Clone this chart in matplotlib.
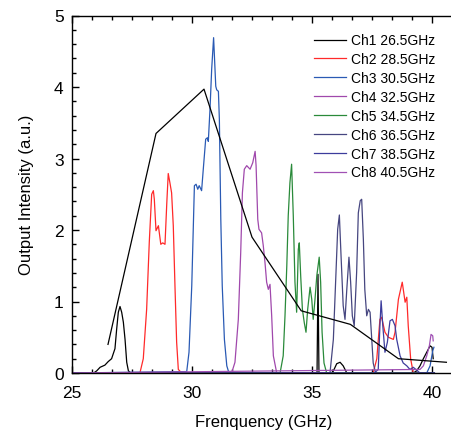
import matplotlib
matplotlib.use('Agg')
import matplotlib.pyplot as plt
import matplotlib as mpl
from matplotlib.ticker import MultipleLocator, AutoMinorLocator

mpl.rcParams['font.family'] = ['Liberation Sans', 'DejaVu Sans']
mpl.rcParams['font.size'] = 12

# ---- data ----
ch1_x = [25.0, 25.9, 26.03, 26.17, 26.37, 26.51, 26.65, 26.79, 26.86, 26.93, 27.0, 27.07, 27.14,
         27.21, 27.28, 27.35, 27.45, 35.21, 35.25, 35.29, 35.85, 36.03, 36.17, 36.3, 36.45,
         39.22, 39.36, 39.5, 39.64, 39.78, 39.92, 40.0, 40.05]
ch1_y = [0, 0, 0.03, 0.08, 0.11, 0.16, 0.2, 0.34, 0.61, 0.85, 0.93, 0.85, 0.71,
         0.47, 0.15, 0.03, 0, 0, 1.38, 0, 0, 0.13, 0.15, 0.1, 0,
         0, 0.03, 0.1, 0.2, 0.29, 0.38, 0.36, 0.2]

ch2_x = [25.0, 27.83, 27.97, 28.11, 28.22, 28.32, 28.39, 28.43, 28.5, 28.6, 28.7, 28.78, 28.875,
         28.95, 29.01, 29.08, 29.15, 29.22, 29.29, 29.36, 29.43, 29.57, 37.55, 37.7, 37.83,
         37.9, 38.04, 38.18, 38.39, 38.46, 38.6, 38.76, 38.88, 38.95, 39.01, 39.11, 39.22, 40.1]
ch2_y = [0, 0, 0.2, 0.89, 1.83, 2.5, 2.55, 2.43, 1.99, 2.06, 1.8, 1.82, 1.8,
         2.38, 2.79, 2.66, 2.52, 2.06, 1.22, 0.43, 0.05, 0, 0, 0.2, 0.75,
         0.78, 0.57, 0.5, 0.47, 0.57, 1.03, 1.27, 0.99, 1.06, 0.66, 0.2, 0, 0]

ch3_x = [25.0, 29.78, 29.875, 29.99, 30.1, 30.17, 30.24, 30.3, 30.4, 30.47, 30.57, 30.64, 30.68,
         30.75, 30.82, 30.9, 30.99, 31.03, 31.1, 31.14, 31.2, 31.26, 31.35, 31.45, 31.54,
         39.78, 39.92, 40.03, 40.08]
ch3_y = [0, 0.02, 0.29, 1.22, 2.62, 2.64, 2.57, 2.62, 2.55, 2.85, 3.27, 3.29, 3.24,
         3.69, 4.25, 4.69, 4.01, 3.96, 3.94, 3.55, 2.15, 1.22, 0.47, 0.1, 0,
         0, 0.1, 0.31, 0.36]

ch4_x = [25.0, 31.65, 31.79, 31.93, 32.03, 32.1, 32.18, 32.28, 32.42, 32.53, 32.63, 32.67, 32.74,
         32.79, 32.9, 32.97, 33.04, 33.11, 33.18, 33.25, 33.32, 33.39, 33.53, 40.1]
ch4_y = [0, 0, 0.15, 0.75, 1.69, 2.52, 2.85, 2.9, 2.85, 2.94, 3.1, 2.9, 2.15,
         2.01, 1.96, 1.78, 1.55, 1.27, 1.17, 1.24, 0.8, 0.24, 0, 0]

ch5_x = [25.0, 33.67, 33.8, 33.875, 33.95, 34.01, 34.08, 34.15, 34.22, 34.29, 34.36, 34.43, 34.47,
         34.53, 34.6, 34.68, 34.75, 34.82, 34.92, 34.99, 35.05, 35.125, 35.2, 35.3, 35.36,
         35.42, 35.5, 35.61, 40.1]
ch5_y = [0, 0, 0.24, 0.8, 1.5, 2.2, 2.66, 2.92, 2.2, 1.27, 0.85, 1.73, 1.82,
         1.35, 0.89, 0.7, 0.57, 0.89, 1.2, 1.03, 0.75, 1.03, 1.36, 1.62, 1.27,
         0.57, 0.14, 0, 0]

ch6_x = [25.0, 35.75, 35.89, 36.0, 36.07, 36.14, 36.21, 36.3, 36.375, 36.45, 36.54, 36.61, 36.68,
         36.76, 36.86, 36.93, 37.01, 37.07, 37.14, 37.2, 37.28, 37.35, 37.42, 37.49, 37.55,
         37.65, 40.1]
ch6_y = [0, 0, 0.47, 1.41, 2.01, 2.21, 1.64, 0.94, 0.75, 1.17, 1.62, 1.27, 0.8,
         0.66, 1.41, 2.24, 2.41, 2.43, 1.87, 1.17, 0.8, 0.89, 0.85, 0.47, 0.14,
         0, 0]

ch7_x = [25.0, 37.6, 37.76, 37.83, 37.88, 37.95, 38.04, 38.14, 38.25, 38.35, 38.46, 38.53, 38.67,
         38.8, 38.95, 39.08, 39.22, 39.5, 40.1]
ch7_y = [0, 0, 0.05, 0.66, 1.01, 0.66, 0.29, 0.43, 0.73, 0.75, 0.66, 0.47, 0.24,
         0.14, 0.1, 0.05, 0.08, 0, 0]

ch8_x = [25.0, 39.5, 39.64, 39.78, 39.89, 39.96, 40.03, 40.05]
ch8_y = [0, 0.05, 0.1, 0.24, 0.38, 0.54, 0.52, 0.45]

# peak envelope (black polyline)
env_x = [26.5, 28.5, 30.5, 32.5, 34.55, 36.6, 38.6, 40.6]
env_y = [0.4, 3.35, 3.97, 1.9, 0.87, 0.68, 0.2, 0.15]

labels = ['Ch1 26.5GHz', 'Ch2 28.5GHz', 'Ch3 30.5GHz', 'Ch4 32.5GHz',
          'Ch5 34.5GHz', 'Ch6 36.5GHz', 'Ch7 38.5GHz', 'Ch8 40.5GHz']
colors = ['black', '#ff2a2a', '#2a5ab4', '#a048ac', '#2a8a3a', '#464680', '#3c3c9c', '#a050b4']

xs = [ch1_x, ch2_x, ch3_x, ch4_x, ch5_x, ch6_x, ch7_x, ch8_x]
ys = [ch1_y, ch2_y, ch3_y, ch4_y, ch5_y, ch6_y, ch7_y, ch8_y]

fig = plt.figure(figsize=(4.52, 4.35), dpi=100)
ax = fig.add_axes([72 / 452, 61 / 435, 384 / 452, 357.5 / 435])

for x, y, lab, c in zip(xs, ys, labels, colors):
    ax.plot(x, y, color=c, linewidth=0.9, label=lab)

ax.plot(env_x, env_y, color='black', linewidth=0.9)

ax.set_xlim(25, 41)
ax.set_ylim(0, 5)
ax.set_xlabel('Frenquency (GHz)', fontsize=12, labelpad=10)
ax.set_ylabel('Output Intensity (a.u.)', fontsize=12, labelpad=14)

ax.xaxis.set_major_locator(MultipleLocator(5))
ax.xaxis.set_minor_locator(AutoMinorLocator(6))
ax.yaxis.set_major_locator(MultipleLocator(1))
ax.yaxis.set_minor_locator(AutoMinorLocator(5))
ax.tick_params(axis='both', which='major', direction='in', length=5, width=1,
               top=True, labelsize=12.5)
ax.tick_params(axis='x', which='major', pad=9)
ax.tick_params(axis='y', which='major', pad=6)
ax.tick_params(axis='both', which='minor', direction='in', length=3, width=1, top=True)
for s in ax.spines.values():
    s.set_linewidth(1)

ax.legend(loc='upper right', bbox_to_anchor=(0.98, 0.985), frameon=False, fontsize=10,
          handlelength=2.3, handletextpad=0.4, labelspacing=0.35)

fig.savefig('out.png', dpi=100)
